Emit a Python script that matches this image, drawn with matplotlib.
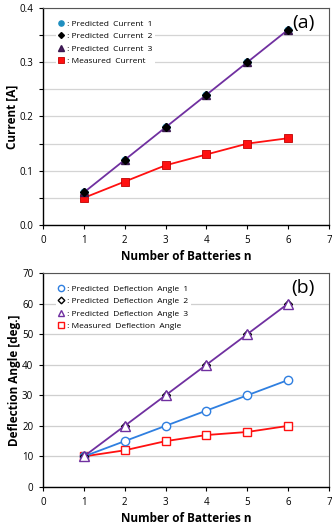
import numpy as np
import matplotlib
matplotlib.use('Agg')
import matplotlib.pyplot as plt
from matplotlib.ticker import MultipleLocator

plt.rcParams['font.family'] = ['Open Sans', 'DejaVu Sans']

n = [1, 2, 3, 4, 5, 6]

# panel (a) currents [A]
cur_pred1 = [0.06, 0.12, 0.18, 0.24, 0.30, 0.36]
cur_pred2 = [0.06, 0.12, 0.18, 0.24, 0.30, 0.36]
cur_pred3 = [0.06, 0.12, 0.18, 0.24, 0.30, 0.36]
cur_meas = [0.05, 0.08, 0.11, 0.13, 0.15, 0.16]

# panel (b) deflection angles [deg.]
ang_pred1 = [10, 15, 20, 25, 30, 35]
ang_pred2 = [10, 20, 30, 40, 50, 60]
ang_pred3 = [10, 20, 30, 40, 50, 60]
ang_meas = [10, 12, 15, 17, 18, 20]

purple = '#7030a0'
red = '#ff1010'
blue = '#2f7fe0'
teal = '#1f8fc0'

fig = plt.figure(figsize=(3.32, 5.27), dpi=100)
ax1 = fig.add_axes([43/332, 1 - 225/527, 286/332, 217/527])
ax2 = fig.add_axes([43/332, 1 - 487/527, 286/332, 214/527])


def style(ax):
    ax.set_xlim(0, 7)
    ax.xaxis.set_major_locator(MultipleLocator(1))
    for s in ['top', 'right']:
        ax.spines[s].set_color('#555555')
        ax.spines[s].set_linewidth(0.8)
    for s in ['left', 'bottom']:
        ax.spines[s].set_color('black')
        ax.spines[s].set_linewidth(1.0)
    ax.tick_params(direction='out', length=3, width=0.8, labelsize=7,
                   colors='black', pad=4)
    ax.tick_params(axis='y', which='minor', direction='out', length=3, width=0.8)
    ax.set_xlabel('Number of Batteries n', fontsize=8.5, fontweight='bold', labelpad=3)
    ax.set_axisbelow(True)


def legend(ax):
    h, l = ax.get_legend_handles_labels()
    order = [1, 2, 3, 0]
    leg = ax.legend([h[i] for i in order], [l[i] for i in order], loc='upper left',
                    bbox_to_anchor=(0.03, 0.975), fontsize=6, frameon=True,
                    fancybox=False, edgecolor='none', framealpha=1,
                    handlelength=0.6, handletextpad=0.25, labelspacing=0.55,
                    borderpad=0.3, markerscale=0.75)
    for hh in leg.legend_handles:
        hh.set_linestyle('none')


# ---- (a)
style(ax1)
ax1.set_ylim(0, 0.4)
ax1.yaxis.set_major_locator(MultipleLocator(0.1))
ax1.yaxis.set_minor_locator(MultipleLocator(0.05))
ax1.yaxis.set_major_formatter(matplotlib.ticker.FormatStrFormatter('%.1f'))
ax1.grid(True, axis='y', which='both', color='#d4d4d4', lw=0.9)
ax1.plot(n, cur_meas, '-s', color=red, ms=6, mec='#c00000', mew=0.6, lw=1.3,
         label=' : Measured  Current')
ax1.plot(n, cur_pred1, 'o', color=teal, ms=5, label=' : Predicted  Current  1')
ax1.plot(n, cur_pred3, '-^', color=purple, mfc='#4b2060', mec='#3a1850', ms=6, lw=1.3,
         label=' : Predicted  Current  3')
ax1.plot(n, cur_pred2, 'D', color='black', ms=4, label=' : Predicted  Current  2')
# keep legend order 1, 2, 3, measured
h, l = ax1.get_legend_handles_labels()
ax1.set_ylabel('Current [A]', fontsize=8.5, fontweight='bold', labelpad=1)
leg_h = [h[1], h[3], h[2], h[0]]
leg_l = [l[1], l[3], l[2], l[0]]
leg = ax1.legend(leg_h, leg_l, loc='upper left',
                 bbox_to_anchor=(0.03, 0.975), fontsize=6, frameon=True,
                 fancybox=False, edgecolor='none', framealpha=1,
                 handlelength=0.6, handletextpad=0.25, labelspacing=0.55,
                 borderpad=0.3, markerscale=0.75)
for hh in leg.legend_handles:
    hh.set_linestyle('none')
ax1.text(0.95, 0.93, '(a)', transform=ax1.transAxes, fontsize=14,
         ha='right', va='center')

# ---- (b)
style(ax2)
ax2.set_ylim(0, 70)
ax2.yaxis.set_major_locator(MultipleLocator(10))
ax2.grid(True, axis='y', color='#cfcfcf', lw=0.9)
ax2.plot(n, ang_meas, '-s', color=red, mfc='white', ms=6, mew=1.0, lw=1.3,
         label=' : Measured  Deflection  Angle')
ax2.plot(n, ang_pred1, '-o', color=blue, mfc='white', ms=6, mew=1.0, lw=1.3,
         label=' : Predicted  Deflection  Angle  1')
ax2.plot(n, ang_pred2, 'D', color='black', mfc='white', ms=4.5, mew=1.0,
         label=' : Predicted  Deflection  Angle  2')
ax2.plot(n, ang_pred3, '-^', color=purple, mfc='white', ms=6.5, mew=1.0, lw=1.3,
         label=' : Predicted  Deflection  Angle  3')
ax2.set_ylabel('Deflection Angle [deg.]', fontsize=8.5, fontweight='bold', labelpad=1)
legend(ax2)
ax2.text(0.95, 0.93, '(b)', transform=ax2.transAxes, fontsize=14,
         ha='right', va='center')

fig.savefig('out.png', dpi=100)
